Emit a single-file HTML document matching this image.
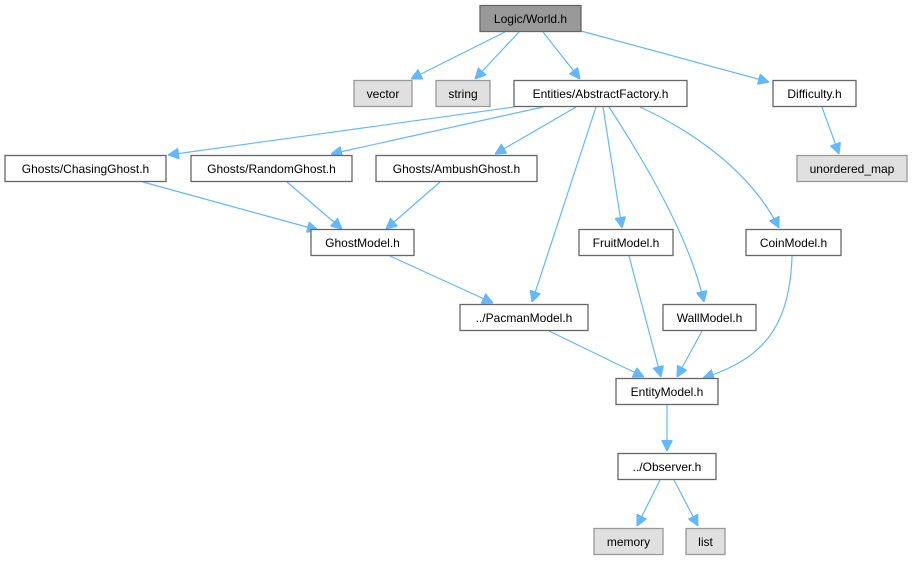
<!DOCTYPE html>
<html><head><meta charset="utf-8"><style>
body{margin:0;background:#fff;width:913px;height:560px;overflow:hidden}
svg text{font-family:"Liberation Sans",sans-serif;font-size:12px;fill:#000;text-anchor:middle}
.n{fill:#fff;stroke:#666;stroke-width:1.3}
.g{fill:#e0e0e0;stroke:#999;stroke-width:1.3}
.e{fill:none;stroke:#63b8ff;stroke-width:1.2}
</style></head><body>
<svg width="913" height="560" viewBox="0 0 913 560">
<defs><marker id="a" viewBox="0 0 10 10" refX="10" refY="5" markerWidth="11" markerHeight="11" markerUnits="userSpaceOnUse" orient="auto"><path d="M0,0L10,5L0,10z" fill="#63b8ff" stroke="#63b8ff"/></marker></defs>
<g marker-end="url(#a)">
<path class="e" d="M505,32L411,79"/>
<path class="e" d="M519,32L475,79"/>
<path class="e" d="M543,32L580,79"/>
<path class="e" d="M581,31L769,82"/>
<path class="e" d="M822,107L839,154"/>
<path class="e" d="M514,107L168,155"/>
<path class="e" d="M543,107L331,154"/>
<path class="e" d="M576,107L495,154"/>
<path class="e" d="M596,107L532,302"/>
<path class="e" d="M603,107L622,228"/>
<path class="e" d="M609,107C650,170 690,240 704,302"/>
<path class="e" d="M640,107C690,130 750,170 779,228"/>
<path class="e" d="M143,182L318,230"/>
<path class="e" d="M287,182L342,229"/>
<path class="e" d="M440,182L386,229"/>
<path class="e" d="M390,256L493,303"/>
<path class="e" d="M549,331L644,377"/>
<path class="e" d="M629,256L661,377"/>
<path class="e" d="M702,331L677,377"/>
<path class="e" d="M792,256C790,330 760,360 703,378"/>
<path class="e" d="M667,405L667,451"/>
<path class="e" d="M660,480L637,526"/>
<path class="e" d="M674,480L698,526"/>
</g>
<rect x="480" y="5.5" width="101" height="26" fill="#999" stroke="#666" stroke-width="1.3"/><text x="530.5" y="23">Logic/World.h</text>
<rect class="g" x="354" y="80.5" width="58" height="26"/><text x="383" y="98">vector</text>
<rect class="g" x="436" y="80.5" width="54" height="26"/><text x="463" y="98">string</text>
<rect class="n" x="514" y="80.5" width="173" height="26"/><text x="600.5" y="98">Entities/AbstractFactory.h</text>
<rect class="n" x="773" y="80.5" width="83" height="26"/><text x="814.5" y="98">Difficulty.h</text>
<rect class="g" x="797" y="155.5" width="110" height="26"/><text x="852" y="173">unordered_map</text>
<rect class="n" x="5" y="155.5" width="161" height="26"/><text x="85.5" y="173">Ghosts/ChasingGhost.h</text>
<rect class="n" x="191" y="155.5" width="161" height="26"/><text x="271.5" y="173">Ghosts/RandomGhost.h</text>
<rect class="n" x="376" y="155.5" width="161" height="26"/><text x="456.5" y="173">Ghosts/AmbushGhost.h</text>
<rect class="n" x="311" y="229.5" width="103" height="26"/><text x="362.5" y="247">GhostModel.h</text>
<rect class="n" x="579" y="229.5" width="94" height="26"/><text x="626" y="247">FruitModel.h</text>
<rect class="n" x="746" y="229.5" width="95" height="26"/><text x="793.5" y="247">CoinModel.h</text>
<rect class="n" x="460" y="304.5" width="128" height="26"/><text x="524" y="322">../PacmanModel.h</text>
<rect class="n" x="663" y="304.5" width="93" height="26"/><text x="709.5" y="322">WallModel.h</text>
<rect class="n" x="616" y="378.5" width="102" height="26"/><text x="667" y="396">EntityModel.h</text>
<rect class="n" x="618" y="453.5" width="98" height="26"/><text x="667" y="471">../Observer.h</text>
<rect class="g" x="594" y="528.5" width="69" height="26"/><text x="628.5" y="546">memory</text>
<rect class="g" x="686" y="528.5" width="39" height="26"/><text x="705.5" y="546">list</text>
</svg>
</body></html>
